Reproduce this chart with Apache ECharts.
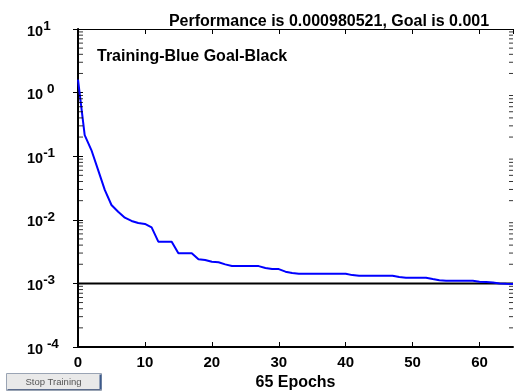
<!DOCTYPE html>
<html>
<head>
<meta charset="utf-8">
<script src="https://cdn.jsdelivr.net/npm/echarts@6/dist/echarts.min.js"></script>
<style>
html,body{margin:0;padding:0;background:#fff;}
#c{width:514px;height:391px;}
</style>
</head>
<body>
<div id="c"></div>
<script>
var titleText = 'Performance is 0.000980521, Goal is 0.001';
var legendText = 'Training-Blue Goal-Black';
var xAxisName = '65 Epochs';
var buttonText = 'Stop Training';
var epochsTotal = 65;
var goal = 0.001;
var performance = [
  1.6, 0.215, 0.125, 0.061, 0.0295, 0.0171, 0.0134, 0.0108, 0.0096, 0.0089,
  0.0086, 0.0076, 0.00453, 0.00453, 0.00453, 0.00297, 0.00297, 0.00297, 0.00239, 0.00233,
  0.00219, 0.00215, 0.00199, 0.00188, 0.00187, 0.00187, 0.00187, 0.00187, 0.00175, 0.00168,
  0.00168, 0.00153, 0.00146, 0.00142, 0.00142, 0.00142, 0.00142, 0.00142, 0.00142, 0.00142,
  0.00142, 0.00135, 0.00132, 0.00132, 0.00132, 0.00132, 0.00132, 0.00132, 0.00126, 0.00123,
  0.00123, 0.00123, 0.00123, 0.00117, 0.00112, 0.00110, 0.00110, 0.00110, 0.00110, 0.00110,
  0.00106, 0.00105, 0.00103, 0.00100, 0.00099, 0.000980521
];
var yTickExponents = [-4, -3, -2, -1, 0, 1];
var minorMultipliers = [2, 3, 4, 5, 6, 7, 8, 9];
var xTicks = [0, 10, 20, 30, 40, 50, 60];

var chart = echarts.init(document.getElementById('c'), null, {renderer: 'canvas'});
var perfData = performance.map(function (v, i) { return [i, v]; });
var goalData = [[0, goal], [epochsTotal, goal]];
var minorLeft = [], minorRight = [];
yTickExponents.slice(0, -1).forEach(function (e) {
  minorMultipliers.forEach(function (m) {
    minorLeft.push([0, m * Math.pow(10, e)]);
    minorRight.push([epochsTotal, m * Math.pow(10, e)]);
  });
});
var FONT = '"Liberation Sans", Arial, Helvetica, sans-serif';

function yLabel(value) {
  var e = Math.round(Math.log(value) / Math.LN10);
  if (yTickExponents.indexOf(e) < 0) return '';
  var s = String(e);
  if (e === 0 || e === -4) return '{b|10}{s| ' + s + '}';
  return '{b|10}{s|' + s + '}';
}

var option = {
  animation: false,
  backgroundColor: '#ffffff',
  title: {
    text: titleText,
    left: 324, top: 9, textAlign: 'center',
    textStyle: {fontFamily: FONT, fontWeight: 'bold', fontSize: 16, color: '#000'}
  },
  grid: {left: 78, right: 1, top: 29, bottom: 44, containLabel: false, outerBoundsMode: 'none'},
  xAxis: [{
    type: 'value', min: 0, max: epochsTotal, interval: 10, position: 'bottom',
    name: xAxisName, nameLocation: 'middle', nameGap: 24,
    nameTextStyle: {fontFamily: FONT, fontWeight: 'bold', fontSize: 16, color: '#000'},
    axisLine: {show: true, lineStyle: {color: '#000', width: 2}},
    axisTick: {show: true, inside: true, length: 5, lineStyle: {color: '#000', width: 1}},
    axisLabel: {
      show: true, margin: 8, showMaxLabel: false,
      fontFamily: FONT, fontWeight: 'bold', fontSize: 15, color: '#000',
      formatter: function (v) { return xTicks.indexOf(v) >= 0 ? String(v) : ''; }
    },
    splitLine: {show: false}
  }, {
    type: 'value', min: 0, max: epochsTotal, interval: 10, position: 'top',
    axisLine: {show: true, lineStyle: {color: '#000', width: 1}},
    axisTick: {show: true, inside: true, length: 5, lineStyle: {color: '#000', width: 1}},
    axisLabel: {show: false}, splitLine: {show: false}
  }],
  yAxis: [{
    type: 'log', logBase: 10, min: 1e-4, max: 10, position: 'left',
    axisLine: {show: true, lineStyle: {color: '#000', width: 2}},
    axisTick: {show: true, inside: true, length: 5, lineStyle: {color: '#000', width: 1}},
    minorTick: {show: false},
    axisLabel: {
      show: true, margin: 51, align: 'left', verticalAlign: 'middle',
      formatter: yLabel,
      rich: {
        b: {fontFamily: FONT, fontWeight: 'bold', fontSize: 14.5, color: '#000', lineHeight: 20, verticalAlign: 'bottom'},
        s: {fontFamily: FONT, fontWeight: 'bold', fontSize: 13.5, color: '#000', lineHeight: 20, verticalAlign: 'top'}
      }
    },
    splitLine: {show: false}
  }, {
    type: 'log', logBase: 10, min: 1e-4, max: 10, position: 'right',
    axisLine: {show: true, lineStyle: {color: '#000', width: 1}},
    axisTick: {show: true, inside: true, length: 5, lineStyle: {color: '#000', width: 1}},
    minorTick: {show: false},
    axisLabel: {show: false}, splitLine: {show: false}
  }],
  series: [{
    name: 'MinorLeft', type: 'scatter', xAxisIndex: 0, yAxisIndex: 0,
    data: minorLeft, symbol: 'rect', symbolSize: [4, 1], symbolOffset: [3, 0],
    itemStyle: {color: '#000'}, silent: true, clip: false, z: 4
  }, {
    name: 'MinorRight', type: 'scatter', xAxisIndex: 0, yAxisIndex: 0,
    data: minorRight, symbol: 'rect', symbolSize: [4, 1], symbolOffset: [-2, 0],
    itemStyle: {color: '#000'}, silent: true, clip: false, z: 4
  }, {
    name: 'Goal', type: 'line', xAxisIndex: 0, yAxisIndex: 0,
    data: goalData, showSymbol: false, symbol: 'none',
    lineStyle: {color: '#000', width: 2}, z: 2
  }, {
    name: 'Training', type: 'line', xAxisIndex: 0, yAxisIndex: 0,
    data: perfData, showSymbol: false, symbol: 'none',
    lineStyle: {color: '#0000ff', width: 2}, z: 3
  }],
  graphic: [{
    type: 'text', left: 97, top: 49,
    style: {text: legendText, font: 'bold 16px ' + FONT, fill: '#000'}
  }, {
    type: 'group', left: 5, top: 372,
    children: [{
      type: 'rect', shape: {x: 0, y: 0, width: 95, height: 17},
      style: {fill: '#e9e9e9', stroke: '#9aa4b4', lineWidth: 1}
    }, {
      type: 'line', shape: {x1: 94, y1: 1, x2: 94, y2: 16},
      style: {stroke: '#3c5a8c', lineWidth: 2}
    }, {
      type: 'line', shape: {x1: 1, y1: 16, x2: 94, y2: 16},
      style: {stroke: '#5c6c8c', lineWidth: 1}
    }, {
      type: 'text', x: 47, y: 9,
      style: {text: buttonText, font: '9.5px ' + FONT, fill: '#555', align: 'center', verticalAlign: 'middle'}
    }]
  }]
};
chart.setOption(option);
</script>
</body>
</html>
